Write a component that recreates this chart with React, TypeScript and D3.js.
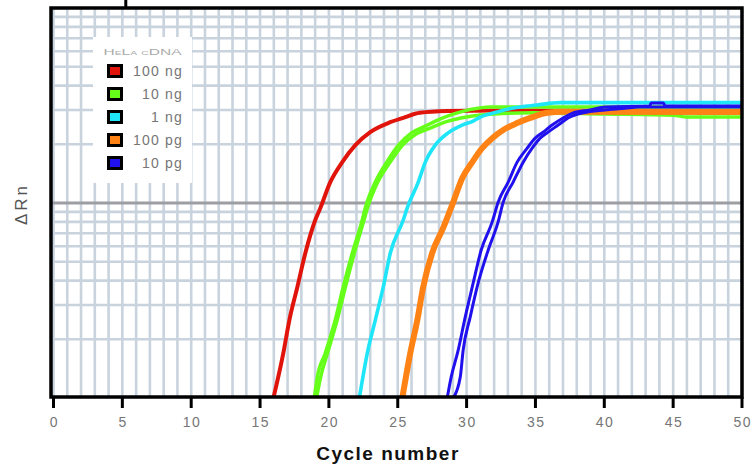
import React from "react";
import * as d3 from "d3";

type Pt = [number, number];

const cycleTicks = [0, 5, 10, 15, 20, 25, 30, 35, 40, 45, 50];
const legendTitle = "HeLa cDNA";
const seriesLabels = ["100 ng", "10 ng", "1 ng", "100 pg", "10 pg"];
const seriesColors = ["#e1140c", "#66ff1a", "#1ee6f8", "#ff8214", "#2010ee"];
const thresholdValue = 10;

// [cycle, ΔRn]
const red100ng: Pt[] = [[15.97, 1.0], [16.69, 1.7], [17.13, 2.51], [17.71, 3.71], [18.29, 5.54], [19.01, 8.18], [19.38, 9.43], [20.1, 12.8], [20.97, 16.2], [21.92, 19.8], [23.0, 23.1], [24.3, 25.7], [25.4, 27.3], [26.6, 29.0], [28.6, 29.6], [32, 29.8], [50, 29.6]];
const green10ngA: Pt[] = [[18.94, 1.0], [19.16, 1.28], [19.74, 1.7], [20.46, 2.51], [21.04, 3.71], [21.7, 5.54], [22.42, 8.18], [22.64, 9.43], [23.37, 12.8], [24.2, 16.2], [25.05, 19.8], [26.0, 22.9], [27.0, 24.8], [28.1, 27.0], [29.2, 28.8], [30.3, 30.2], [31.7, 31.1], [36, 31.1], [50, 31.1]];
const green10ngB: Pt[] = [[19.1, 1.0], [19.4, 1.28], [19.9, 1.7], [20.6, 2.51], [21.2, 3.71], [21.85, 5.54], [22.55, 8.18], [22.8, 9.43], [23.55, 12.8], [24.45, 16.2], [25.35, 19.8], [26.3, 22.5], [27.4, 24.3], [28.6, 26.2], [30.0, 27.6], [32, 28.6], [34.8, 29.0], [40, 28.6], [45, 28.2], [46, 27.6], [50, 27.6]];
const cyan1ng: Pt[] = [[22.21, 1.0], [22.79, 1.7], [23.37, 2.51], [23.95, 3.71], [24.46, 5.54], [25.4, 8.18], [25.69, 9.43], [26.49, 12.8], [27.0, 16.2], [27.72, 19.8], [28.66, 22.9], [29.68, 25.1], [30.48, 26.3], [30.99, 27.6], [32.22, 29.3], [33.38, 30.7], [35.12, 31.8], [36.79, 32.7], [50, 32.7]];
const orange100pg: Pt[] = [[25.33, 1.0], [25.91, 1.7], [26.42, 2.51], [26.85, 3.71], [27.5, 5.54], [28.3, 7.45], [29.03, 10.1], [29.68, 13.4], [30.41, 16.2], [31.13, 19.1], [31.86, 21.5], [32.66, 23.7], [33.67, 25.7], [34.62, 27.3], [35.85, 29.0], [37.0, 29.4], [50, 29.3]];
const blue10pgA: Pt[] = [[28.59, 1.0], [28.88, 1.28], [29.39, 1.76], [29.9, 2.6], [30.48, 3.89], [31.06, 5.74], [31.86, 8.0], [32.29, 10.1], [33.02, 12.8], [33.67, 16.2], [34.4, 19.1], [34.98, 21.5], [35.56, 23.1], [36.21, 25.1], [37.01, 27.3], [37.74, 29.0], [38.97, 30.0], [40.06, 31.1], [43.3, 31.4], [43.4, 32.6], [44.3, 32.6], [44.4, 31.4], [50, 31.4]];
const blue10pgB: Pt[] = [[29.03, 1.0], [29.54, 1.28], [29.75, 1.76], [30.26, 2.6], [30.84, 3.89], [31.57, 5.74], [32.29, 8.0], [32.66, 10.1], [33.38, 12.8], [34.11, 16.2], [34.76, 19.1], [35.34, 21.5], [35.92, 23.1], [36.65, 25.1], [37.37, 27.3], [38.46, 29.0], [40.06, 30.0], [41.5, 30.6], [42.5, 31.1], [50, 31.1]];

const W = 755;
const H = 468;
const x = d3.scaleLinear().domain([0, 50]).range([53.5, 742]);
const y = d3.scaleLog().domain([1, 100]).range([398, 8]);

const curves: { data: Pt[]; color: string; width: number }[] = [
  { data: red100ng, color: seriesColors[0], width: 4 },
  { data: green10ngB, color: seriesColors[1], width: 3.5 },
  { data: green10ngA, color: seriesColors[1], width: 3.5 },
  { data: cyan1ng, color: seriesColors[2], width: 3.6 },
  { data: orange100pg, color: seriesColors[3], width: 6 },
  { data: blue10pgB, color: seriesColors[4], width: 3 },
  { data: blue10pgA, color: seriesColors[4], width: 3 },
];

const gridColor = "#c8d3de";
const textGray = "#767676";

export default function App() {
  const line = d3
    .line<Pt>()
    .x((d) => x(d[0]))
    .y((d) => y(d[1]))
    .curve(d3.curveMonotoneX);

  const vGrid = d3.range(0, 51);
  const hGrid = y.ticks().filter((v) => v > 1 && v < 100 && v !== thresholdValue);

  return (
    <div style={{ position: "absolute", left: 0, top: 0 }}>
      <svg width={W} height={H} style={{ display: "block", background: "#fff" }}>
        <defs>
          <clipPath id="plotclip">
            <rect x={51} y={8} width={691} height={390} />
          </clipPath>
        </defs>
        {/* grid */}
        <g>
          {hGrid.map((v) => (
            <line key={"h" + v} x1={51} x2={742} y1={y(v)} y2={y(v)} stroke={gridColor} strokeWidth={2.6} />
          ))}
          {vGrid.map((c) => (
            <line key={"v" + c} x1={x(c)} x2={x(c)} y1={8} y2={398} stroke={gridColor} strokeWidth={2.6} />
          ))}
          <line x1={51} x2={742} y1={y(thresholdValue)} y2={y(thresholdValue)} stroke="#9d9da4" strokeWidth={3} />
        </g>
        {/* legend background */}
        <rect x={93} y={37} width={99} height={146} fill="#fff" />
        {/* curves */}
        <g clipPath="url(#plotclip)">
          {curves.map((c, i) => (
            <path key={i} d={line(c.data) || ""} fill="none" stroke={c.color} strokeWidth={c.width} strokeLinejoin="miter" />
          ))}
        </g>
        {/* frame */}
        <rect x={51} y={8} width={691} height={389} fill="none" stroke="#000" strokeWidth={3.5} />
        <line x1={x(5.25)} x2={x(5.25)} y1={0} y2={8} stroke="#000" strokeWidth={3} />
        {/* x axis ticks */}
        {cycleTicks.map((t) => (
          <g key={"t" + t}>
            <line x1={x(t)} x2={x(t)} y1={397} y2={408} stroke="#000" strokeWidth={3} />
            <text
              x={x(t) + 0.8}
              y={427}
              textAnchor="middle"
              fontFamily="Liberation Sans, Arial, sans-serif"
              fontSize={14}
              letterSpacing={1.5}
              fill={textGray}
            >
              {t}
            </text>
          </g>
        ))}
        <text
          x={388}
          y={460}
          textAnchor="middle"
          fontFamily="Liberation Sans, Arial, sans-serif"
          fontSize={19}
          fontWeight="bold"
          letterSpacing={1.5}
          fill="#111"
        >
          Cycle number
        </text>
        <text
          transform="translate(27,204) rotate(-90)"
          textAnchor="middle"
          fontFamily="Liberation Sans, Arial, sans-serif"
          fontSize={17}
          letterSpacing={3}
          fill="#555"
        >
          ΔRn
        </text>
        {/* legend */}
        <text
          x={142.5}
          y={55}
          textAnchor="middle"
          fontFamily="Liberation Sans, Arial, sans-serif"
          fontSize={9}
          fontVariant="small-caps"
          textLength={78}
          lengthAdjust="spacingAndGlyphs"
          fill="#ababab"
        >
          {legendTitle}
        </text>
        {seriesLabels.map((lab, i) => {
          const cy = 71 + i * 23;
          return (
            <g key={lab}>
              <rect x={108.5} y={cy - 5.5} width={13} height={11} fill={seriesColors[i]} stroke="#000" strokeWidth={3} />
              <text
                x={183}
                y={cy + 5}
                textAnchor="end"
                fontFamily="Liberation Sans, Arial, sans-serif"
                fontSize={14}
                letterSpacing={1.2}
                fill={textGray}
              >
                {lab}
              </text>
            </g>
          );
        })}
      </svg>
    </div>
  );
}
